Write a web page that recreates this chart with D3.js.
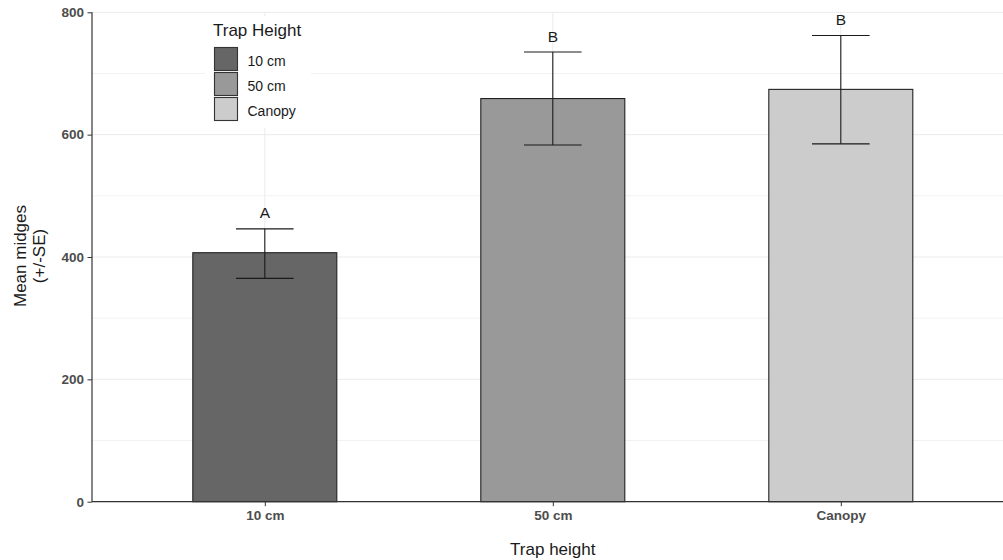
<!DOCTYPE html>
<html><head><meta charset="utf-8">
<script src="https://cdn.jsdelivr.net/npm/d3@7"></script>
<style>body{margin:0;background:#fff;} svg{display:block;font-family:"Liberation Sans",Arial,sans-serif;}</style>
</head><body>
<svg id="chart" width="1003" height="560"></svg>
<script>
const categories = ["10 cm", "50 cm", "Canopy"];
const means = [407, 659, 674];
const lowers = [365, 583, 585];
const uppers = [446, 735, 762];
const letters = ["A", "B", "B"];
const fills = ["#666666", "#999999", "#CCCCCC"];
const yTicks = [0, 200, 400, 600, 800];
const yMinor = [100, 300, 500, 700];

(function () {
const svg = d3.select("#chart");
const pLeft = 92, pTop = 12.3, pBottom = 501.7;
const unit = 288;
const pRight = pLeft + 3.2 * unit;

const y = d3.scaleLinear().domain([0, 800]).range([pBottom, pTop]);
const xPos = d3.scalePoint().domain(categories).range([pLeft + 0.6 * unit, pLeft + 2.6 * unit]);
const barW = 0.5 * unit, capW = 0.2 * unit;

// grid
const g = svg.append("g");
g.selectAll(".minor").data(yMinor).join("line")
  .attr("x1", pLeft).attr("x2", pRight).attr("y1", d => y(d)).attr("y2", d => y(d))
  .attr("stroke", "#F2F2F2").attr("stroke-width", 1);
g.selectAll(".major").data(yTicks).join("line")
  .attr("x1", pLeft).attr("x2", pRight).attr("y1", d => y(d)).attr("y2", d => y(d))
  .attr("stroke", "#EBEBEB").attr("stroke-width", 1);
g.selectAll(".vmaj").data(categories).join("line")
  .attr("x1", d => xPos(d)).attr("x2", d => xPos(d)).attr("y1", pTop).attr("y2", pBottom)
  .attr("stroke", "#EBEBEB").attr("stroke-width", 1);

// bars
svg.selectAll(".bar").data(categories).join("rect")
  .attr("x", d => xPos(d) - barW / 2).attr("width", barW)
  .attr("y", (d, i) => y(means[i])).attr("height", (d, i) => y(0) - y(means[i]))
  .attr("fill", (d, i) => fills[i]).attr("stroke", "#222").attr("stroke-width", 1.1);

// error bars
const eb = svg.append("g").attr("stroke", "#1a1a1a").attr("stroke-width", 1.1);
categories.forEach((c, i) => {
  const cx = xPos(c);
  eb.append("line").attr("x1", cx).attr("x2", cx).attr("y1", y(uppers[i])).attr("y2", y(lowers[i]));
  eb.append("line").attr("x1", cx - capW / 2).attr("x2", cx + capW / 2).attr("y1", y(uppers[i])).attr("y2", y(uppers[i]));
  eb.append("line").attr("x1", cx - capW / 2).attr("x2", cx + capW / 2).attr("y1", y(lowers[i])).attr("y2", y(lowers[i]));
});
svg.selectAll(".let").data(categories).join("text")
  .attr("x", d => xPos(d)).attr("y", (d, i) => y(uppers[i]) - 10.5)
  .attr("text-anchor", "middle").attr("font-size", 15.5).attr("fill", "#1a1a1a")
  .text((d, i) => letters[i]);

// axes
const yAxis = svg.append("g").attr("transform", `translate(${pLeft},0)`)
  .call(d3.axisLeft(y).tickValues(yTicks).tickSize(4.5).tickPadding(3.5));
yAxis.select(".domain").attr("stroke", "#333").attr("stroke-width", 1.2).attr("d", `M0,${pTop}V${pBottom}`);
yAxis.selectAll(".tick line").attr("stroke", "#333");
yAxis.selectAll(".tick text").attr("font-size", 13.5).attr("font-weight", "bold").attr("fill", "#4D4D4D")
  .attr("font-family", "Liberation Sans, Arial, sans-serif");

const xAxis = svg.append("g").attr("transform", `translate(0,${pBottom})`)
  .call(d3.axisBottom(xPos).tickSize(4.5).tickPadding(4));
xAxis.select(".domain").attr("stroke", "#333").attr("stroke-width", 1.2).attr("d", `M${pLeft},0H${pRight}`);
xAxis.selectAll(".tick line").attr("stroke", "#333");
xAxis.selectAll(".tick text").attr("font-size", 13.5).attr("font-weight", "bold").attr("fill", "#4D4D4D")
  .attr("font-family", "Liberation Sans, Arial, sans-serif");

// titles
svg.append("text").attr("x", xPos("50 cm")).attr("y", 555).attr("text-anchor", "middle")
  .attr("font-size", 17).attr("fill", "#1a1a1a").text("Trap height");
const yt = svg.append("text").attr("transform", `translate(0,256) rotate(-90)`)
  .attr("text-anchor", "middle").attr("font-size", 17).attr("fill", "#1a1a1a");
yt.append("tspan").attr("x", 0).attr("y", 25.5).text("Mean midges");
yt.append("tspan").attr("x", 0).attr("y", 44.5).text("(+/-SE)");

// legend
const lg = svg.append("g");
lg.append("rect").attr("x", 205).attr("y", 16).attr("width", 106).attr("height", 112).attr("fill", "#fff");
lg.append("text").attr("x", 213).attr("y", 36).attr("font-size", 17).attr("fill", "#1a1a1a").text("Trap Height");
categories.forEach((c, i) => {
  lg.append("rect").attr("x", 214.5).attr("y", 47.5 + i * 25).attr("width", 23).attr("height", 23)
    .attr("fill", fills[i]).attr("stroke", "#333").attr("stroke-width", 1.1);
  lg.append("text").attr("x", 247.5).attr("y", 65.5 + i * 25).attr("font-size", 14).attr("fill", "#1a1a1a").text(c);
});
})();
</script>
</body></html>
